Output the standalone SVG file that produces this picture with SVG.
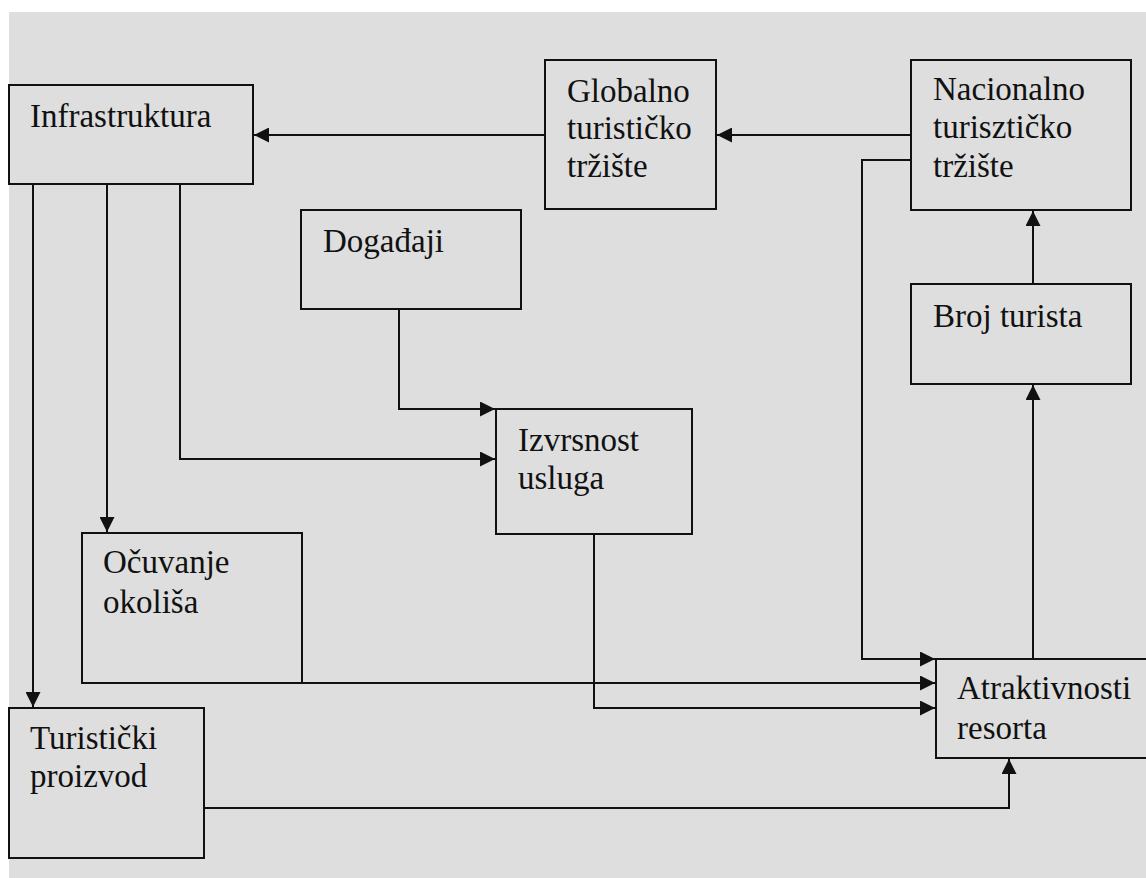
<svg xmlns="http://www.w3.org/2000/svg" width="1146" height="878" viewBox="0 0 1146 878">
<style>
.box{fill:none;stroke:#111;stroke-width:2}
.lbl{font-family:'Liberation Serif','Times New Roman','DejaVu Serif',serif;font-size:33px;fill:#111}
.con{fill:none;stroke:#111;stroke-width:2}
.arr{marker-end:url(#ah)}
</style>
<defs>
<marker id="ah" markerUnits="userSpaceOnUse" markerWidth="16" markerHeight="15" refX="15" refY="7.5" orient="auto" viewBox="0 0 16 15">
<path d="M0,0 L15,7.5 L0,15 z" fill="#111"/>
</marker>
</defs>
<rect x="0" y="0" width="1146" height="878" fill="#ffffff"/>
<rect x="9" y="12" width="1137" height="866" fill="#dedede"/>
<g id="connectors">
<path class="con arr" d="M545,135 L254,135"/>
<path class="con arr" d="M911,135 L717,135"/>
<path class="con arr" d="M33,184 L33,707"/>
<path class="con arr" d="M107,184 L107,532"/>
<path class="con arr" d="M180,184 L180,459 L495,459"/>
<path class="con arr" d="M399,309 L399,409 L495,409"/>
<path class="con arr" d="M911,160 L862,160 L862,659 L935,659"/>
<path class="con arr" d="M302,683 L935,683"/>
<path class="con arr" d="M594,534 L594,708 L935,708"/>
<path class="con arr" d="M204,808 L1009,808 L1009,759"/>
<path class="con arr" d="M1033,659 L1033,385"/>
<path class="con arr" d="M1033,284 L1033,211"/>
</g>
<g id="infrastruktura">
<rect class="box" x="9" y="85" width="244" height="99"/>
<text class="lbl" font-family="'Liberation Serif', serif" x="30" y="127">Infrastruktura</text>
</g>
<g id="globalno">
<rect class="box" x="545" y="60" width="171" height="149"/>
<text class="lbl" x="567" y="102">Globalno</text>
<text class="lbl" x="567" y="139">turističko</text>
<text class="lbl" x="567" y="177">tržište</text>
</g>
<g id="nacionalno">
<rect class="box" x="911" y="60" width="220" height="150"/>
<text class="lbl" x="933" y="100">Nacionalno</text>
<text class="lbl" x="933" y="138">turisztičko</text>
<text class="lbl" x="933" y="177">tržište</text>
</g>
<g id="dogadjaji">
<rect class="box" x="301" y="210" width="220" height="99"/>
<text class="lbl" x="323" y="252">Događaji</text>
</g>
<g id="broj-turista">
<rect class="box" x="911" y="284" width="220" height="100"/>
<text class="lbl" x="933" y="327">Broj turista</text>
</g>
<g id="izvrsnost">
<rect class="box" x="496" y="409" width="196" height="125"/>
<text class="lbl" x="518" y="451">Izvrsnost</text>
<text class="lbl" x="518" y="489">usluga</text>
</g>
<g id="ocuvanje">
<rect class="box" x="82" y="533" width="220" height="150"/>
<text class="lbl" x="103" y="573">Očuvanje</text>
<text class="lbl" x="103" y="613">okoliša</text>
</g>
<g id="atraktivnosti">
<rect class="box" x="936" y="659" width="220" height="99"/>
<text class="lbl" x="957" y="699">Atraktivnosti</text>
<text class="lbl" x="957" y="739">resorta</text>
</g>
<g id="turisticki">
<rect class="box" x="9" y="708" width="195" height="150"/>
<text class="lbl" x="30" y="749">Turistički</text>
<text class="lbl" x="30" y="787">proizvod</text>
</g>
</svg>
